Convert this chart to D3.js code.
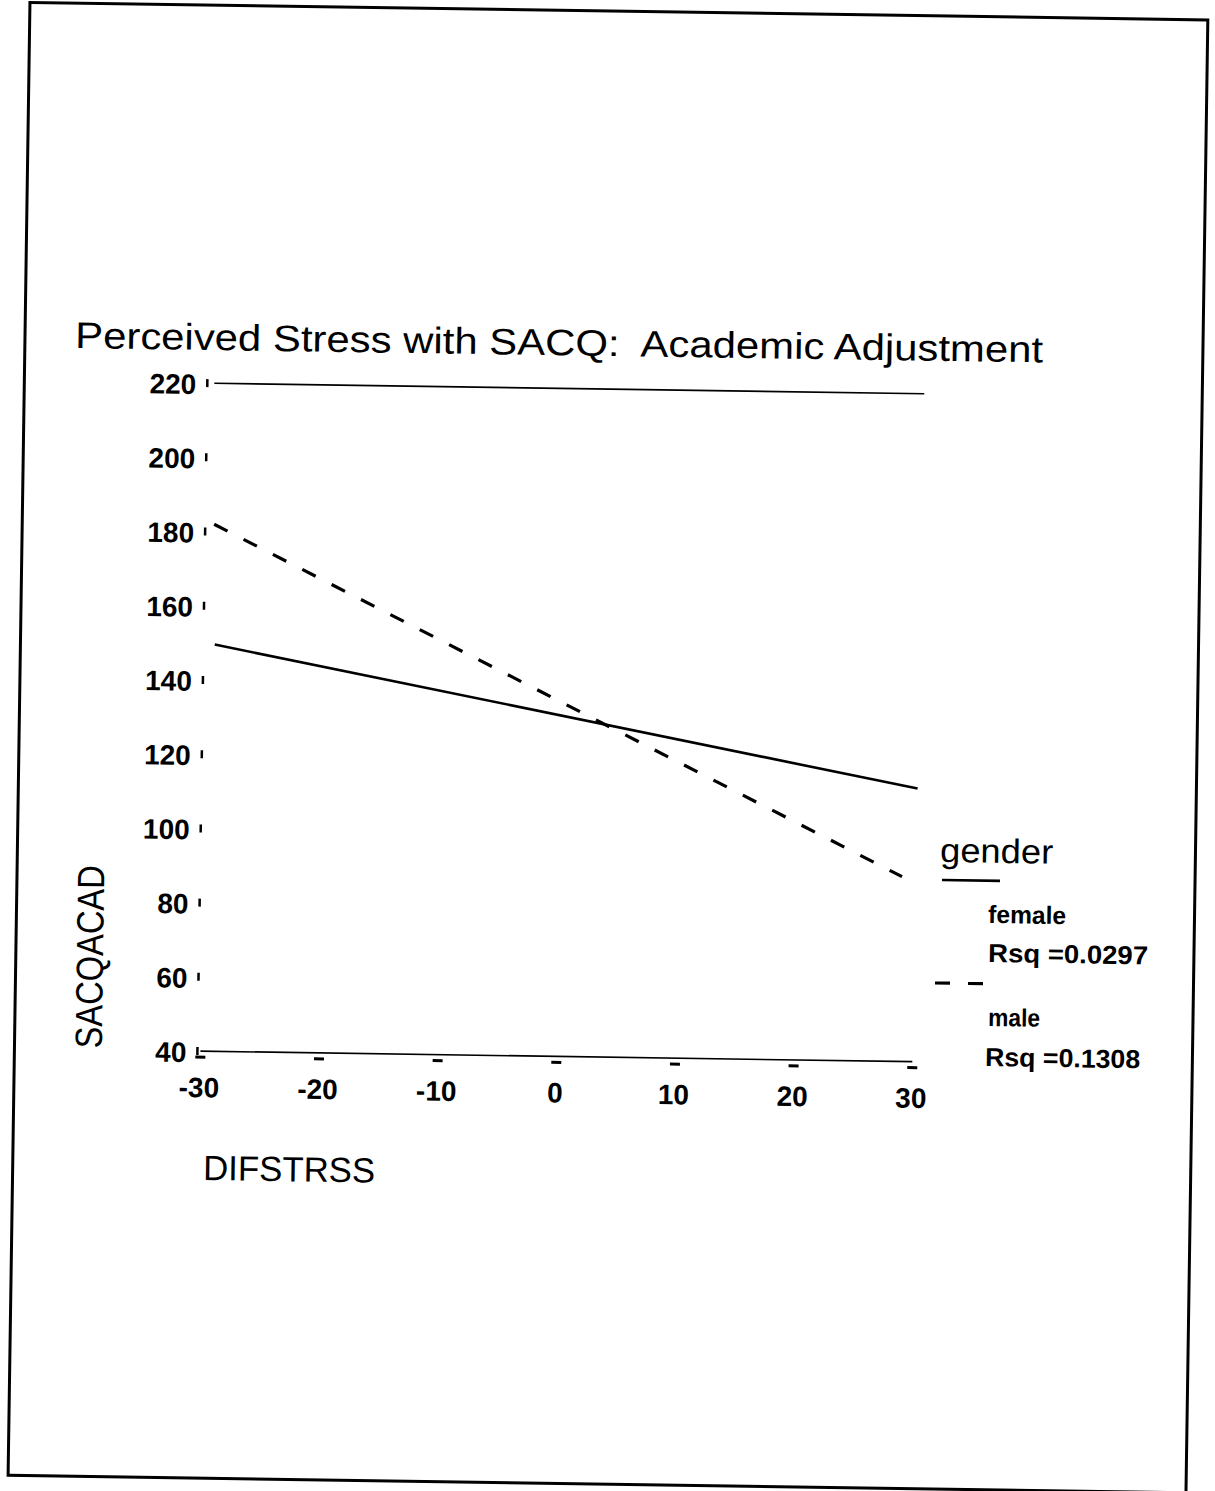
<!DOCTYPE html>
<html>
<head>
<meta charset="utf-8">
<script src="https://cdn.jsdelivr.net/npm/d3@7"></script>
<style>
  body { margin: 0; background: #fff; }
  text { font-family: "Liberation Sans", Arial, sans-serif; fill: #000; }
</style>
</head>
<body>
<div id="chart"></div>
<script>
// data
var xTicks = [-30, -20, -10, 0, 10, 20, 30];
var yTicks = [40, 60, 80, 100, 120, 140, 160, 180, 200, 220];
var groups = ["female", "male"];
var rsq = ["0.0297", "0.1308"];
// fit line end points (DIFSTRSS, SACQACAD)
var femaleX = [-29.3, 30.1];
var femaleY = [149.6, 113.6];
var maleX = [-29.5, 28.9];
var maleY = [182.0, 89.8];

var W = 1215, H = 1491;
// the scan is turned a little clockwise
var angle = 0.85, cx = 600, cy = 745;
function un(x, y) {
    var t = angle * Math.PI / 180, dx = x - cx, dy = y - cy;
    return [cx + dx * Math.cos(t) + dy * Math.sin(t), cy - dx * Math.sin(t) + dy * Math.cos(t)];
}

var svg = d3.select("#chart").append("svg")
    .attr("width", W).attr("height", H);
svg.append("rect").attr("width", W).attr("height", H).attr("fill", "#fff");

var g = svg.append("g")
    .attr("transform", "rotate(" + angle + "," + cx + "," + cy + ")");

// page frame
g.append("rect")
    .attr("x", 19).attr("y", 11)
    .attr("width", 1178).attr("height", 1473)
    .attr("fill", "none").attr("stroke", "#000").attr("stroke-width", 3);

var x = d3.scaleLinear().domain([-30, 30]).range([205, 917]);
var y = d3.scaleLinear().domain([40, 220]).range([1057, 389]);

// top and bottom frame lines of the plot
g.append("line")
    .attr("x1", x(-30) + 4).attr("x2", x(30) + 2)
    .attr("y1", y(220)).attr("y2", y(220))
    .attr("stroke", "#000").attr("stroke-width", 1.6);
g.append("line")
    .attr("x1", x(-30)).attr("x2", x(30))
    .attr("y1", y(40)).attr("y2", y(40))
    .attr("stroke", "#000").attr("stroke-width", 1.6);

// y ticks (small upright marks) and labels
g.selectAll(".ytick").data(yTicks).enter().append("line")
    .attr("class", "ytick")
    .attr("x1", x(-30) - 3).attr("x2", x(-30) - 3)
    .attr("y1", function (d) { return y(d) - 4; })
    .attr("y2", function (d) { return y(d) + 4; })
    .attr("stroke", "#000").attr("stroke-width", 2.5);
g.selectAll(".ylab").data(yTicks).enter().append("text")
    .attr("class", "ylab")
    .attr("x", x(-30) - 14)
    .attr("y", function (d) { return y(d) + 11; })
    .attr("text-anchor", "end")
    .style("font-size", "28px").style("font-weight", "bold")
    .text(function (d) { return d; });

// x ticks (small dashes under the axis) and labels
g.selectAll(".xtick").data(xTicks).enter().append("line")
    .attr("class", "xtick")
    .attr("x1", function (d) { return x(d) - 5; })
    .attr("x2", function (d) { return x(d) + 5; })
    .attr("y1", y(40) + 6).attr("y2", y(40) + 6)
    .attr("stroke", "#000").attr("stroke-width", 3);
g.selectAll(".xlab").data(xTicks).enter().append("text")
    .attr("class", "xlab")
    .attr("x", function (d) { return x(d) - 1; })
    .attr("y", y(40) + 46)
    .attr("text-anchor", "middle")
    .style("font-size", "28px").style("font-weight", "bold")
    .text(function (d) { return d; });

// fit lines
var line = d3.line()
    .x(function (d) { return x(d[0]); })
    .y(function (d) { return y(d[1]); });
g.append("path")
    .datum(d3.zip(femaleX, femaleY))
    .attr("fill", "none").attr("stroke", "#000").attr("stroke-width", 2.6)
    .attr("d", line);
g.append("path")
    .datum(d3.zip(maleX, maleY))
    .attr("fill", "none").attr("stroke", "#000").attr("stroke-width", 3.2)
    .attr("stroke-dasharray", "15,18")
    .attr("d", line);

// title
var p = un(75, 348);
g.append("text")
    .attr("x", p[0]).attr("y", p[1])
    .attr("textLength", 968).attr("lengthAdjust", "spacingAndGlyphs")
    .style("font-size", "37px").style("white-space", "pre")
    .text("Perceived Stress with SACQ:  Academic Adjustment");

// axis titles
p = un(103, 957);
g.append("text")
    .attr("transform", "translate(" + p[0] + "," + p[1] + ") rotate(-90)")
    .attr("text-anchor", "middle")
    .attr("textLength", 183).attr("lengthAdjust", "spacingAndGlyphs")
    .style("font-size", "38px")
    .text("SACQACAD");
p = un(203, 1180);
g.append("text")
    .attr("x", p[0]).attr("y", p[1])
    .attr("textLength", 172).attr("lengthAdjust", "spacingAndGlyphs")
    .style("font-size", "35px")
    .text("DIFSTRSS");

// legend
p = un(940, 862);
g.append("text")
    .attr("x", p[0]).attr("y", p[1])
    .attr("textLength", 113).attr("lengthAdjust", "spacingAndGlyphs")
    .style("font-size", "34px")
    .text("gender");

var legRows = [
    { sample: un(942, 880), len: 58, dash: null, name: un(988, 923), stat: un(988, 962) },
    { sample: un(935, 983), len: 50, dash: "15,18", name: un(988, 1026), stat: un(985, 1066) }
];
legRows.forEach(function (r, i) {
    var s = g.append("line")
        .attr("x1", r.sample[0]).attr("x2", r.sample[0] + r.len)
        .attr("y1", r.sample[1]).attr("y2", r.sample[1])
        .attr("stroke", "#000").attr("stroke-width", i ? 3.2 : 2.6);
    if (r.dash) s.attr("stroke-dasharray", r.dash);
    g.append("text")
        .attr("x", r.name[0]).attr("y", r.name[1])
        .attr("textLength", i ? 52 : 78).attr("lengthAdjust", "spacingAndGlyphs")
        .style("font-size", "25px").style("font-weight", "bold")
        .text(groups[i]);
    g.append("text")
        .attr("x", r.stat[0]).attr("y", r.stat[1])
        .attr("textLength", i ? 155 : 160).attr("lengthAdjust", "spacingAndGlyphs")
        .style("font-size", "26px").style("font-weight", "bold")
        .style("white-space", "pre")
        .text("Rsq =" + rsq[i]);
});
</script>
</body>
</html>
